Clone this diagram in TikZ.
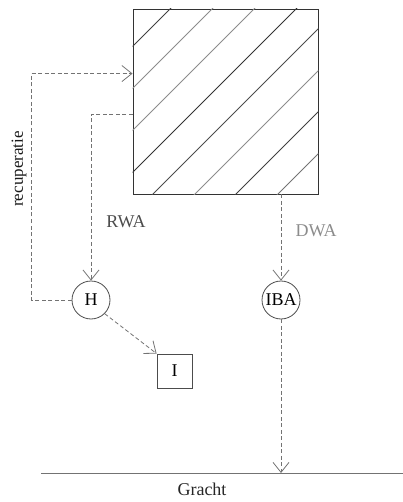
\documentclass[tikz,border=0pt]{standalone}
\usepackage{fontspec}
\setmainfont{Liberation Serif}
\usetikzlibrary{positioning,arrows.meta,calc}
\tikzset{
    flow/.style={
        draw=black!55,dashed,dash pattern=on 4pt off 2.5pt,line width=.8pt
    },
    station/.style={
        circle,draw=black!70,line width=.8pt,minimum size=38pt,inner sep=0pt,
        font=\fontsize{18}{20}\selectfont
    },
    infil/.style={
        rectangle,draw=black!70,line width=.8pt,minimum width=35pt,minimum height=34pt,
        font=\fontsize{18}{20}\selectfont
    },
    lbl/.style={
        font=\fontsize{18}{20}\selectfont
    }
}
\begin{document}
\begin{tikzpicture}[x=1pt,y=-1pt, >={Straight Barb[length=10pt,width=16pt]}]
\useasboundingbox (0,0) rectangle (403,502);
\node[draw=black!80,line width=.9pt,minimum size=185pt,inner sep=0pt] (sq) at (225.5,101.5) {};
\begin{scope}
\clip (sq.north west) rectangle (sq.south east);
\foreach \c/\col in {179/black!75,221/black!45,263/black!45,305/black!80,347/black!70,389/black!45,430/black!75,472/black!55}
    \draw[\col,line width=.8pt] (\c-200,200) -- (\c+20,-20);
\end{scope}
\node[station] (H) at (91,300) {H};
\node[station] (IBA) at (281,300) {IBA};
\node[infil] (I) at (174.5,371) {I};
\coordinate (g1) at (41,473);
\coordinate (g2) at (403,473);
\draw[black!55,line width=.8pt] (g1) -- (g2);
\node[lbl,black!85] (gr) at (202,489) {Gracht};
\node[lbl,black!90,rotate=90,font=\fontsize{17}{19}\selectfont] (rec) at (19,169) {recuperatie};
\node[lbl,black!70] (rwa) at (126,222) {RWA};
\node[lbl,black!45] (dwa) at (316,231) {DWA};
\draw[flow,->] (H.west) -- ++(-40,0) |- ([yshift=-65pt]sq.north west);
\draw[flow,->] ([yshift=-106pt]sq.north west) -| (H.north);
\draw[flow,->] (sq.south -| IBA.north) -- (IBA.north);
\draw[flow,->] (IBA.south) -- (IBA.south |- g1);
\draw[flow,->] (H.south east) -- (I.north west);
\end{tikzpicture}
\end{document}
